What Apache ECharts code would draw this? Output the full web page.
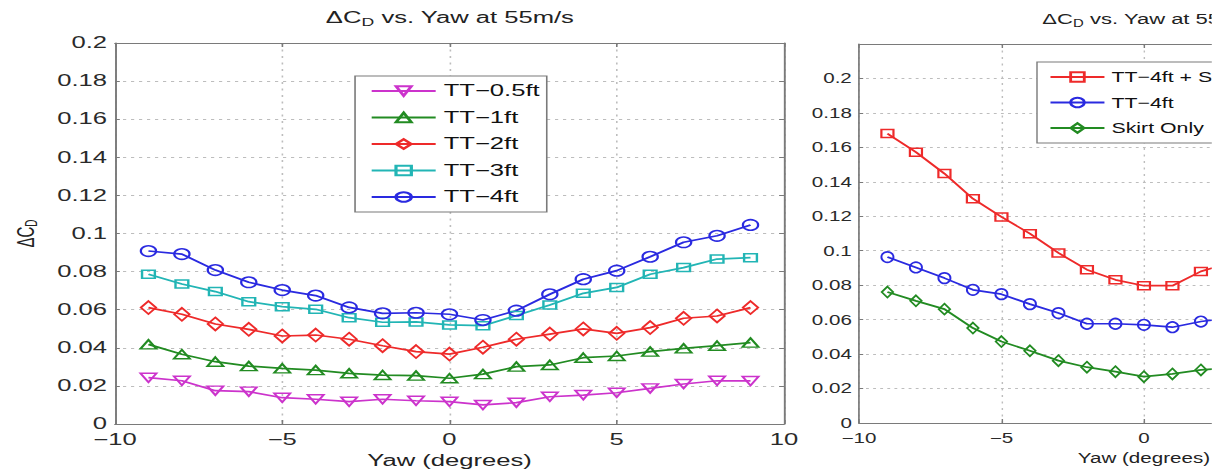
<!DOCTYPE html>
<html>
<head>
<meta charset="utf-8">
<script src="https://cdn.jsdelivr.net/npm/echarts@6/dist/echarts.min.js"></script>
<style>
html,body{margin:0;padding:0;background:#fff;width:1225px;height:472px;overflow:hidden;position:relative}
#left{position:absolute;left:0;top:0;width:500px;height:472px;transform:scaleX(1.6);transform-origin:0 0;overflow:hidden}
#right{position:absolute;left:800px;top:0;width:290px;height:472px;transform:scaleX(1.42);transform-origin:0 0;overflow:hidden}
</style>
</head>
<body>
<div id="left"></div>
<div id="right"></div>
<script>
// ---------- data ----------
const yawLeft = [-9,-8,-7,-6,-5,-4,-3,-2,-1,0,1,2,3,4,5,6,7,8,9];
const tt05ft = [0.0243,0.0227,0.0175,0.0170,0.0138,0.0130,0.0117,0.0130,0.0122,0.0117,0.0100,0.0112,0.0143,0.0152,0.0164,0.0187,0.0210,0.0227,0.0226];
const tt1ft  = [0.0418,0.0366,0.0327,0.0304,0.0292,0.0283,0.0266,0.0257,0.0254,0.0240,0.0262,0.0301,0.0310,0.0348,0.0357,0.0380,0.0397,0.0411,0.0427];
const tt2ft  = [0.0611,0.0576,0.0525,0.0497,0.0462,0.0467,0.0445,0.0411,0.0380,0.0367,0.0403,0.0445,0.0472,0.0499,0.0476,0.0506,0.0555,0.0567,0.0611];
const tt3ft  = [0.0786,0.0735,0.0695,0.0642,0.0616,0.0602,0.0558,0.0534,0.0536,0.0520,0.0516,0.0569,0.0625,0.0686,0.0717,0.0786,0.0821,0.0866,0.0873];
const tt4ft  = [0.0908,0.0892,0.0808,0.0744,0.0703,0.0674,0.0612,0.0581,0.0584,0.0576,0.0546,0.0595,0.0681,0.0760,0.0805,0.0878,0.0954,0.0988,0.1045];

const yawRight = [-9,-8,-7,-6,-5,-4,-3,-2,-1,0,1,2,3];
const tt4Skirt = [0.1680,0.1572,0.1448,0.1302,0.1196,0.1099,0.0987,0.0890,0.0831,0.0797,0.0797,0.0880,0.0930];
const tt4Only  = [0.0963,0.0903,0.0841,0.0773,0.0748,0.0690,0.0638,0.0576,0.0576,0.0570,0.0556,0.0589,0.0610];
const skirtOnly= [0.0760,0.0709,0.0661,0.0551,0.0473,0.0419,0.0362,0.0324,0.0298,0.0269,0.0285,0.0308,0.0320];

const leftNames  = ['TT\u22120.5ft','TT\u22121ft','TT\u22122ft','TT\u22123ft','TT\u22124ft'];
const rightNames = ['TT\u22124ft + Skirt','TT\u22124ft','Skirt Only'];
const titleText = '{a|\u0394C}{s|D}{a| vs. Yaw at 55m/s}';
const xName = 'Yaw (degrees)';
const yName = '{a|\u0394C}{s|D}';

// ---------- styling helpers ----------
const FONT = "'Liberation Sans', Arial, Helvetica, sans-serif";
const AX = '#7a7a7a';
const fmtX = v => v < 0 ? '\u2212' + Math.abs(v) : String(v);

function line(name, xs, ys, color, symbol, size, rot) {
  return {
    name, type: 'line', data: xs.map((x, i) => [x, ys[i]]),
    symbol, symbolSize: size, symbolRotate: rot || 0, symbolKeepAspect: false,
    lineStyle: { color, width: 1.7 },
    itemStyle: { color: 'rgba(255,255,255,0)', borderColor: color, borderWidth: 1.5 },
    emphasis: { disabled: true }, animation: false, clip: true
  };
}

function axesFor(opts) {
  const common = (pos) => ({
    type: 'value', position: pos,
    axisLine: { show: true, onZero: false, lineStyle: { color: AX, width: 1.2 } },
    axisTick: { show: true, inside: true, length: 4, lineStyle: { color: AX } }
  });
  const xMain = Object.assign(common('bottom'), {
    min: -10, max: 10, interval: 5,
    axisLabel: { formatter: v => (v > opts.xLabelMax ? '' : fmtX(v)), fontSize: opts.fs, color: '#2a2a2a', fontFamily: FONT, margin: 8 },
    splitLine: { show: true, lineStyle: { color: '#bdbdbd', type: [2, 4.5], width: 1 } },
    name: xName, nameLocation: 'middle', nameGap: opts.xGap,
    nameTextStyle: { fontSize: opts.fs, color: '#222', fontFamily: FONT }
  });
  const xTop = Object.assign(common('top'), {
    min: -10, max: 10, interval: 5, axisLabel: { show: false }, splitLine: { show: false }
  });
  const yMain = Object.assign(common('left'), {
    min: 0, max: opts.ymax, interval: 0.02,
    axisTick: { show: true, inside: true, length: 3, lineStyle: { color: AX } },
    axisLabel: { formatter: v => (v > 0.2001 ? '' : String(Math.round(v * 100) / 100)),
                 fontSize: opts.fs, color: '#2a2a2a', fontFamily: FONT, margin: 5 },
    splitLine: { show: true, lineStyle: { color: '#bdbdbd', type: [2, 3], width: 1 } }
  });
  if (opts.yName) {
    yMain.name = opts.yName; yMain.nameLocation = 'middle'; yMain.nameGap = opts.yGap;
    yMain.nameTextStyle = { rich: {
      a: { fontSize: 15, fontFamily: FONT, color: '#222', fontWeight: 'normal' },
      s: { fontSize: 10, fontFamily: FONT, color: '#222', fontWeight: 'normal', padding: [8, 0, 0, 0] } } };
  }
  const yRight = Object.assign(common('right'), {
    min: 0, max: opts.ymax, interval: 0.02,
    axisTick: { show: true, inside: true, length: 3, lineStyle: { color: AX } },
    axisLabel: { show: false }, splitLine: { show: false }
  });
  return { xAxis: [xMain, xTop], yAxis: [yMain, yRight] };
}

// ---------- left chart ----------
const leftChart = echarts.init(document.getElementById('left'), null, { renderer: 'svg' });
const la = axesFor({ fs: 16, xGap: 26, ymax: 0.2, yName: yName, yGap: 46, xLabelMax: 10 });
leftChart.setOption({
  animation: false,
  title: {
    text: titleText, left: 281.25, top: 8, textAlign: 'center', padding: 0,
    textStyle: { fontWeight: 'normal', rich: {
      a: { fontSize: 16, fontFamily: FONT, color: '#222', fontWeight: 'normal' },
      s: { fontSize: 11, fontFamily: FONT, color: '#222', fontWeight: 'normal', padding: [9, 0, 0, 0] } } }
  },
  grid: { left: 71.875, top: 43, width: 418.1, height: 381, outerBoundsMode: 'none', containLabel: false },
  xAxis: la.xAxis, yAxis: la.yAxis,
  legend: {
    orient: 'vertical', left: 221.9, top: 76, padding: [7, 4.4, 7, 9.4],
    itemWidth: 40, itemHeight: 12, itemGap: 10.5,
    backgroundColor: '#fff', borderColor: AX, borderWidth: 1, borderRadius: 0,
    textStyle: { fontSize: 16, fontFamily: FONT, color: '#111', lineHeight: 14 },
    data: leftNames, selectedMode: false
  },
  series: [
    line(leftNames[0], yawLeft, tt05ft, '#cc33cc', 'triangle', [10, 9], 180),
    line(leftNames[1], yawLeft, tt1ft,  '#228b22', 'triangle', [10, 9]),
    line(leftNames[2], yawLeft, tt2ft,  '#ee2a2a', 'diamond', [9.5, 13]),
    line(leftNames[3], yawLeft, tt3ft,  '#22b5b5', 'rect', [8, 8]),
    line(leftNames[4], yawLeft, tt4ft,  '#2a2ae0', 'circle', [9.5, 10.5])
  ]
});

// ---------- right chart ----------
const rightChart = echarts.init(document.getElementById('right'), null, { renderer: 'svg' });
const ra = axesFor({ fs: 14.5, xGap: 28, ymax: 0.22, xLabelMax: 0 });
rightChart.setOption({
  animation: false,
  title: {
    text: titleText, left: 245.8, top: 9, textAlign: 'center', padding: 0,
    textStyle: { fontWeight: 'normal', rich: {
      a: { fontSize: 15.5, fontFamily: FONT, color: '#222', fontWeight: 'normal' },
      s: { fontSize: 10.5, fontFamily: FONT, color: '#222', fontWeight: 'normal', padding: [9, 0, 0, 0] } } }
  },
  grid: { left: 41.5, top: 44, width: 401.4, height: 379, outerBoundsMode: 'none', containLabel: false },
  xAxis: ra.xAxis, yAxis: ra.yAxis,
  legend: {
    orient: 'vertical', left: 166.9, top: 62, padding: [7.5, 4, 7.5, 8.5],
    itemWidth: 38, itemHeight: 12, itemGap: 10.5,
    backgroundColor: '#fff', borderColor: AX, borderWidth: 1, borderRadius: 0,
    textStyle: { fontSize: 15, fontFamily: FONT, color: '#111', lineHeight: 14 },
    data: rightNames, selectedMode: false
  },
  series: [
    line(rightNames[0], yawRight, tt4Skirt,  '#ee2a2a', 'rect', [8.5, 8]),
    line(rightNames[1], yawRight, tt4Only,   '#2a2ae0', 'circle', [8.5, 10.5]),
    line(rightNames[2], yawRight, skirtOnly, '#228b22', 'diamond', [8, 11])
  ]
});
</script>
</body>
</html>
